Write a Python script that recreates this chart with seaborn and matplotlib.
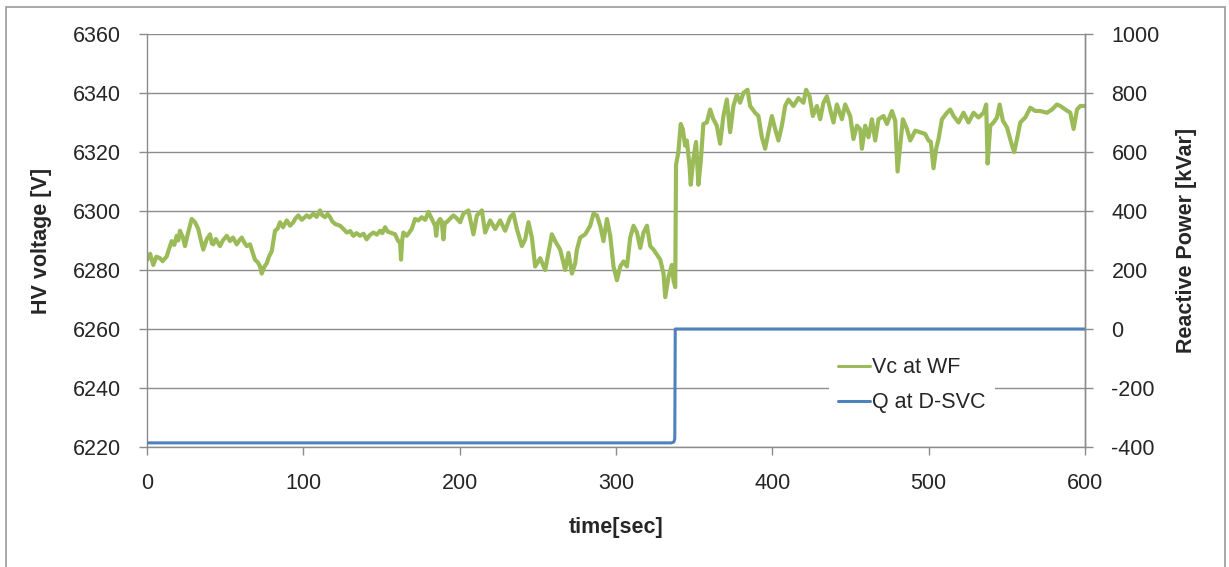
import matplotlib
matplotlib.use("Agg")
import matplotlib.pyplot as plt
from matplotlib.patches import Rectangle
import seaborn as sns

# Time stamps [s] and HV voltage at the wind farm [V]
time_s = [
    0.2, 2, 4.0, 6, 8.3, 10, 12.6, 14, 15.8, 17.5, 19, 20, 21.1, 23, 24.3, 26, 28.6, 30.7,
    32.8, 34.5, 36, 38.2, 40.3, 41.5, 42.4, 44, 46.7, 48.5, 51, 53.1, 55, 57.4, 59, 60.6,
    62, 63.8, 65.9, 67.5, 69.1, 71, 72.3, 73.4, 75, 76.6, 78, 79.8, 81.9, 83.5, 85.1, 87,
    89.4, 91.5, 93.6, 95, 96.8, 99, 102.2, 104, 106.4, 108.5, 110.7, 112, 113.9, 115.5,
    117.1, 118.5, 120.3, 123.5, 125.5, 127.8, 130, 132, 134, 136.3, 138.5, 140.5, 142.5,
    144.8, 147, 149.1, 150.5, 152.3, 154, 155.5, 157, 158.7, 160.5, 161.9, 162.5, 163.2,
    164, 166.1, 167.5, 169.3, 171.5, 173.5, 175.7, 178, 180, 182, 184.3, 185, 186, 187.5,
    188.5, 189.6, 190.5, 191.7, 194, 196, 198, 200.3,
    202.4, 205.6, 208.8, 211.0, 214.2, 216.3, 219.5, 222.7, 225.9, 229.1, 232.3, 234.4,
    236.6, 239.8, 241.9, 244.0, 246.2, 248.3, 251.5, 254.7, 256.8, 259.0, 261.1, 264.3,
    267.5, 269.6, 271.8, 273.9, 275.0, 277.1, 280.3, 283.5, 285.6, 287.8, 289.9, 292.0,
    294.2, 296.3, 298.4, 300.6, 302.7, 304.8, 307.0, 309.1, 311.2, 313.4, 315.5, 317.6,
    319.8, 321.9, 324.0, 326.2, 328.3, 330.4, 331.5, 333.6, 335.7, 336.8, 337.9,
    338.4, 339.9, 341.4, 342.7, 344.2, 345.3, 347.0, 347.8, 349.5, 351.2, 352.7, 354.2,
    355.9, 358.1, 360.2, 362.3, 364.5, 366.6, 368.7, 370.9, 373.0, 375.1, 377.3, 379.4,
    381.5, 384.1, 385.8, 389.0, 391.1, 393.3, 395.4, 397.5, 399.7, 401.8, 403.9, 406.1,
    408.2, 410.3, 413.5, 416.7, 419.9, 421.6, 423.8, 425.9, 428.5, 430.6, 432.7, 434.9,
    437.0, 439.1, 441.3, 444.5, 446.6, 449.8, 451.9, 454.1,
    456.2, 457.3, 459.4, 461.5, 463.7, 465.8, 467.9, 471.1, 473.3, 476.5, 478.6, 480.1,
    481.8, 483.5, 486.1, 488.2, 491.4, 494.6, 497.8, 499.9, 501.4, 503.1, 504.8, 506.3,
    508.5, 511.7, 513.8, 515.9, 519.1, 522.3, 525.5, 528.7, 531.9, 535.1, 536.8, 537.7,
    539.4, 541.5, 543.7, 545.4, 547.5, 550.1, 553.3, 554.7, 556.5, 558.6, 561.8, 565.0,
    568.2, 571.4, 575.6, 578.9, 582.0, 584.2, 587.4, 590.6, 592.7, 594.9, 597.0, 599.5,
]
vc_volts = [
    6283.5, 6285.5, 6281.7, 6284.5, 6284.0, 6283.0, 6284.6, 6287.0, 6289.8, 6288.5, 6291.6,
    6290.0, 6293.3, 6291.0, 6288.1, 6292.0, 6297.3, 6296.2, 6293.9, 6290.0, 6286.9, 6290.4,
    6292.1, 6289.0, 6288.7, 6290.5, 6288.1, 6290.0, 6291.6, 6289.8, 6291.0, 6288.7, 6290.0,
    6291.0, 6289.5, 6288.1, 6288.7, 6286.0, 6283.5, 6282.5, 6281.2, 6278.8, 6281.0, 6282.3,
    6284.5, 6286.4, 6293.3, 6294.0, 6296.2, 6294.5, 6296.8, 6295.0, 6296.2, 6297.5, 6298.5,
    6297.0, 6298.5, 6297.8, 6299.1, 6298.0, 6300.2, 6298.6, 6297.9, 6299.0, 6297.9, 6296.5,
    6295.6, 6295.0, 6294.0, 6292.7, 6293.2, 6291.6, 6292.5, 6291.6, 6292.3, 6290.4, 6291.8,
    6292.7, 6292.0, 6293.3, 6292.5, 6294.5, 6293.0, 6292.7, 6292.4, 6292.1, 6290.0, 6289.2,
    6283.5, 6290.0, 6292.7, 6291.6, 6292.5, 6293.9, 6297.3, 6296.8, 6297.9, 6297.0, 6299.7,
    6297.5, 6295.0, 6291.6, 6296.0, 6297.3, 6296.5, 6290.4, 6296.0, 6296.2, 6297.5, 6298.5,
    6297.6, 6296.2,
    6299.1, 6300.2, 6292.1, 6298.5, 6300.2, 6292.7, 6296.8, 6293.9, 6296.8, 6293.3, 6297.9,
    6299.1, 6293.9, 6288.1, 6290.4, 6296.2, 6291.0, 6281.2, 6284.0, 6280.0, 6285.8, 6292.1,
    6289.8, 6286.9, 6280.0, 6285.8, 6278.8, 6282.3, 6286.9, 6291.0, 6292.1, 6295.0, 6299.1,
    6298.5, 6295.0, 6289.8, 6297.3, 6291.6, 6281.2, 6276.5, 6281.2, 6282.9, 6281.2, 6291.0,
    6295.0, 6292.7, 6287.5, 6292.7, 6295.0, 6288.1, 6286.9, 6285.2, 6283.5, 6278.8, 6270.8,
    6277.7, 6281.7, 6276.5, 6274.2,
    6315.6, 6320.0, 6329.5, 6327.8, 6322.2, 6323.9, 6315.6, 6308.9, 6317.8, 6323.4, 6308.9,
    6316.7, 6329.5, 6330.0, 6334.4, 6331.1, 6328.9, 6322.8, 6332.2, 6337.8, 6326.7, 6335.6,
    6339.4, 6336.7, 6340.0, 6341.1, 6335.6, 6333.3, 6332.2, 6325.0, 6321.1, 6326.7, 6332.2,
    6327.8, 6323.9, 6328.9, 6335.6, 6337.8, 6335.6, 6338.3, 6336.7, 6341.1, 6338.9, 6332.2,
    6335.6, 6331.1, 6336.7, 6338.9, 6334.4, 6330.0, 6336.1, 6331.1, 6336.1, 6332.2, 6324.4,
    6328.9,
    6327.8, 6321.1, 6328.9, 6325.0, 6331.1, 6323.9, 6331.1, 6332.2, 6329.5, 6333.9, 6330.6,
    6313.4, 6322.2, 6331.1, 6327.8, 6323.9, 6327.2, 6326.7, 6326.1, 6323.9, 6323.4, 6314.5,
    6321.1, 6324.4, 6331.1, 6333.3, 6334.4, 6332.2, 6330.0, 6333.3, 6330.0, 6333.3, 6331.7,
    6333.3, 6336.1, 6316.1, 6328.9, 6330.0, 6331.7, 6336.1, 6330.6, 6328.3, 6322.2, 6320.0,
    6324.4, 6330.0, 6331.7, 6335.0, 6333.9, 6333.9, 6333.3, 6334.4, 6336.1, 6335.6, 6334.4,
    6333.3, 6327.8, 6334.4, 6335.6, 6335.6,
]

# Reactive power of the D-SVC [kVar]
q_time = [0, 335.5, 337.0, 337.6, 337.9, 600]
q_kvar = [-386, -386, -383, -372, 0, 0]

x_ticks = [0, 100, 200, 300, 400, 500, 600]
v_ticks = [6220, 6240, 6260, 6280, 6300, 6320, 6340, 6360]
q_ticks = [-400, -200, 0, 200, 400, 600, 800, 1000]

GREEN = "#9bbb59"
BLUE = "#4f81bd"
GREY = "#8c8c8c"

sns.set_style("white")
plt.rcParams["font.family"] = ["Liberation Sans", "DejaVu Sans"]
plt.rcParams["axes.unicode_minus"] = False

fig = plt.figure(figsize=(12.29, 5.67), dpi=100)
fig.patches.append(Rectangle((6 / 1229, -0.05), 1219 / 1229, 1.05 - 7 / 567,
                             transform=fig.transFigure, fill=False,
                             edgecolor="#9a9a9a", lw=1.2))

ax = fig.add_axes([147 / 1229, 1 - 447 / 567, 938 / 1229, 413 / 567])
ax2 = ax.twinx()

sns.lineplot(x=time_s, y=vc_volts, ax=ax, color=GREEN, lw=3.0,
             estimator=None, sort=False, label="Vc at WF", legend=False)
sns.lineplot(x=q_time, y=q_kvar, ax=ax2, color=BLUE, lw=2.2,
             estimator=None, sort=False, label="Q at D-SVC", legend=False)

ax.set_xlim(0, 600)
ax.set_ylim(6220, 6360)
ax2.set_ylim(-400, 1000)
ax.set_xticks(x_ticks)
ax.set_yticks(v_ticks)
ax2.set_yticks(q_ticks)

ax.yaxis.grid(True, color=GREY, lw=1)
ax.xaxis.grid(False)
ax2.grid(False)
ax.set_axisbelow(True)

ax.spines["top"].set_visible(False)
for s in ("left", "right", "bottom"):
    ax.spines[s].set_color(GREY)
    ax.spines[s].set_linewidth(1)
for s in ("top", "left", "bottom"):
    ax2.spines[s].set_visible(False)
ax2.spines["right"].set_color(GREY)
ax2.spines["right"].set_linewidth(1)

ax.tick_params(axis="both", direction="out", length=6, width=1, color=GREY,
               labelsize=15.5, pad=13, left=True, bottom=True)
ax2.tick_params(axis="y", direction="out", length=6, width=1, color=GREY,
                labelsize=15.5, pad=13, right=True)

ax.set_xlabel("time[sec]", fontsize=15.5, fontweight="bold")
ax.set_ylabel("HV voltage [V]", fontsize=15.5, fontweight="bold")
ax2.set_ylabel("Reactive Power [kVar]", fontsize=15.5, fontweight="bold")
ax.xaxis.set_label_coords(0.5, -(517 - 447) / 413)
ax.yaxis.set_label_coords((52 - 147) / 938, 0.5)
ax2.yaxis.set_label_coords((1176 - 147) / 938, 0.5)

handles = ax.get_lines()[:1] + ax2.get_lines()[:1]
leg = ax2.legend(handles, ["Vc at WF", "Q at D-SVC"], loc="center left",
                 bbox_to_anchor=(0.716, 0.150), fontsize=15.5, frameon=True,
                 facecolor="white", edgecolor="none", framealpha=1,
                 handlelength=1.5, handletextpad=0.1, labelspacing=0.65,
                 borderpad=0.4, fancybox=False)
for line in leg.get_lines():
    line.set_linewidth(2.2)

fig.savefig("out.png", dpi=100, facecolor="white")
